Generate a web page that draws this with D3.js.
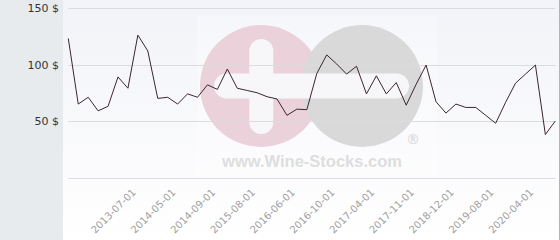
<!DOCTYPE html>
<html>
<head>
<meta charset="utf-8">
<script src="https://cdn.jsdelivr.net/npm/d3@7"></script>
<style>
  html, body { margin: 0; padding: 0; background: #ffffff; }
  svg { display: block; }
</style>
</head>
<body>
<svg id="chart" width="560" height="240"></svg>
<script>
// ---- data ----
const prices = [
  123, 65, 71, 59, 63, 89, 79, 126, 112, 70,
  71, 65, 74, 71, 82, 78, 96, 79, 77, 75,
  71.5, 69.5, 55, 60.5, 60, 92, 108.5, 100.5, 91.5, 98.5,
  74, 90, 74, 84, 64, 82.5, 99.5, 67, 57, 65,
  62, 62, 55, 48, 66.5, 83.5, 91.5, 99.5, 38, 50
];
const tickIndex = [6, 10, 14, 18, 22, 26, 30, 34, 38, 42, 46];
const tickLabels = [
  "2013-07-01", "2014-05-01", "2014-09-01", "2015-08-01", "2016-06-01",
  "2016-10-01", "2017-04-01", "2017-11-01", "2018-12-01", "2019-08-01", "2020-04-01"
];
const yTicks = [50, 100, 150];
const gridValues = [0, 50, 100, 150];

// ---- layout ----
const W = 560, H = 240;
const svg = d3.select("#chart");

const x = d3.scalePoint()
  .domain(d3.range(prices.length))
  .range([68.3, 555.3]);
const y = d3.scaleLinear()
  .domain([0, 150])
  .range([177.5, 8]);

// backgrounds
const defs = svg.append("defs");
const grad = defs.append("linearGradient").attr("id", "bg").attr("x1", 0).attr("y1", 0).attr("x2", 0).attr("y2", 1);
grad.append("stop").attr("offset", "0%").attr("stop-color", "#f2f3f8");
grad.append("stop").attr("offset", "100%").attr("stop-color", "#ffffff");

svg.append("rect").attr("x", 0).attr("y", 0).attr("width", 63).attr("height", H).attr("fill", "#e7ebee");
svg.append("rect").attr("x", 63).attr("y", 0).attr("width", 496).attr("height", H).attr("fill", "url(#bg)");
svg.append("line").attr("x1", 559.5).attr("x2", 559.5).attr("y1", 0).attr("y2", H)
  .attr("stroke", "#b4b4b4").attr("stroke-width", 1);

// watermark
const wm = svg.append("g").attr("class", "watermark");
wm.append("rect").attr("x", 197).attr("y", 16).attr("width", 240).attr("height", 160)
  .attr("fill", "#ffffff").attr("opacity", 0.3);
wm.append("circle").attr("cx", 261).attr("cy", 86).attr("r", 61).attr("fill", "#ebd2da");
wm.append("circle").attr("cx", 362).attr("cy", 86).attr("r", 61).attr("fill", "#d9d9da");
wm.append("rect").attr("x", 249.3).attr("y", 39).attr("width", 24).attr("height", 95).attr("rx", 12)
  .attr("fill", "#f7f7fa");
wm.append("rect").attr("x", 214).attr("y", 73.5).attr("width", 195).attr("height", 25).attr("rx", 12.5)
  .attr("fill", "#f7f7fa");
wm.append("text").attr("x", 312).attr("y", 167).attr("text-anchor", "middle")
  .attr("font-family", "Liberation Sans, Arial, sans-serif").attr("font-weight", "bold")
  .attr("font-size", 16.5).attr("fill", "#dedede").text("www.Wine-Stocks.com");
wm.append("text").attr("x", 413).attr("y", 144).attr("text-anchor", "middle")
  .attr("font-family", "DejaVu Sans, sans-serif").attr("font-weight", "bold")
  .attr("font-size", 14).attr("fill", "#dedede").text("®");

// gridlines
svg.append("g").selectAll("line").data(gridValues).join("line")
  .attr("x1", 68.3).attr("x2", 555.3)
  .attr("y1", d => Math.round(y(d)) + 0.5).attr("y2", d => Math.round(y(d)) + 0.5)
  .attr("stroke", "#dcdcdf").attr("stroke-width", 1);

// y axis labels
const yAxis = d3.axisLeft(y).tickValues(yTicks).tickSize(0).tickPadding(0)
  .tickFormat(d => d + " $");
const gy = svg.append("g").attr("transform", "translate(59,0)").call(yAxis);
gy.select(".domain").remove();
gy.selectAll("text").attr("font-family", "DejaVu Sans, sans-serif").attr("font-size", 11)
  .attr("fill", "#333333");

// x axis labels
const xAxis = d3.axisBottom(x).tickValues(tickIndex).tickSize(0).tickPadding(0)
  .tickFormat((d, i) => tickLabels[i]);
const gx = svg.append("g").attr("transform", "translate(0,188)").call(xAxis);
gx.select(".domain").remove();
gx.selectAll("text")
  .attr("font-family", "DejaVu Sans, sans-serif").attr("font-size", 10)
  .attr("fill", "#a0a0a0")
  .attr("text-anchor", "end")
  .attr("dy", "0.7em")
  .attr("transform", "translate(3,0) rotate(-45)");

// line
const line = d3.line().x((d, i) => x(i)).y(d => y(d));
svg.append("path").datum(prices)
  .attr("d", line).attr("fill", "none")
  .attr("stroke", "#3a2630").attr("stroke-width", 1).attr("stroke-linejoin", "miter");
</script>
</body>
</html>
